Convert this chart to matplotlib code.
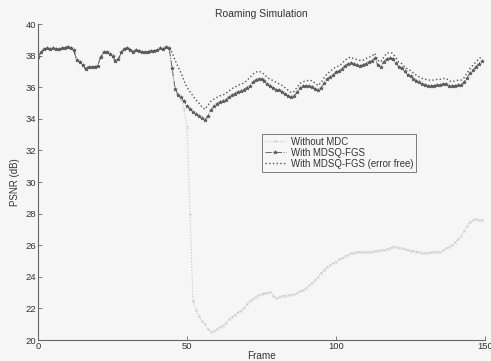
import numpy as np
import matplotlib
matplotlib.use("Agg")
import matplotlib.pyplot as plt

plt.rcParams['font.family'] = ['Liberation Sans', 'DejaVu Sans']

# frames 0..44: all three schemes give the same PSNR
shared = [37.9, 38.2, 38.4, 38.45, 38.4, 38.45, 38.4, 38.4, 38.45, 38.5,
          38.55, 38.45, 38.35, 37.7, 37.6, 37.4, 37.15, 37.3, 37.25, 37.3,
          37.35, 37.9, 38.2, 38.25, 38.1, 37.95, 37.65, 37.8, 38.2, 38.4,
          38.5, 38.35, 38.25, 38.35, 38.3, 38.25, 38.2, 38.25, 38.3, 38.3,
          38.35, 38.45, 38.4, 38.55, 38.5]

# frames 45..149
tail_no_mdc = [37.2, 35.9, 35.5, 35.2, 34.6, 33.5, 28.0, 22.5, 21.9, 21.5,
               21.2, 21.0, 20.7, 20.5, 20.6, 20.7, 20.8, 20.9, 21.1, 21.3,
               21.45, 21.6, 21.75, 21.85, 22.0, 22.25, 22.5, 22.6, 22.75, 22.85,
               22.9, 22.95, 23.0, 23.05, 22.8, 22.65, 22.7, 22.8, 22.8, 22.85,
               22.85, 22.9, 23.0, 23.1, 23.15, 23.3, 23.45, 23.6, 23.8, 24.0,
               24.25, 24.45, 24.6, 24.75, 24.85, 24.95, 25.1, 25.2, 25.3, 25.4,
               25.5, 25.5, 25.55, 25.6, 25.55, 25.6, 25.6, 25.6, 25.65, 25.65,
               25.7, 25.7, 25.75, 25.8, 25.9, 25.9, 25.85, 25.8, 25.75, 25.7,
               25.65, 25.65, 25.6, 25.55, 25.5, 25.5, 25.5, 25.55, 25.55, 25.6,
               25.6, 25.7, 25.8, 25.9, 26.0, 26.2, 26.4, 26.6, 26.9, 27.2,
               27.5, 27.6, 27.65, 27.6, 27.6]

tail_mdsq = [37.2, 35.9, 35.5, 35.35, 35.1, 34.8, 34.65, 34.45, 34.3, 34.15,
             34.05, 33.9, 34.2, 34.55, 34.8, 34.95, 35.05, 35.1, 35.2, 35.35,
             35.5, 35.6, 35.7, 35.75, 35.85, 35.95, 36.1, 36.3, 36.45, 36.55,
             36.5, 36.4, 36.2, 36.05, 35.95, 35.85, 35.8, 35.7, 35.55, 35.45,
             35.35, 35.45, 35.7, 35.95, 36.05, 36.1, 36.1, 36.0, 35.9, 35.8,
             35.95, 36.25, 36.5, 36.65, 36.8, 36.95, 37.0, 37.15, 37.35, 37.5,
             37.55, 37.45, 37.4, 37.35, 37.4, 37.5, 37.6, 37.65, 37.85, 37.4,
             37.3, 37.6, 37.8, 37.85, 37.8, 37.55, 37.3, 37.2, 37.0, 36.8,
             36.7, 36.55, 36.4, 36.3, 36.2, 36.15, 36.1, 36.1, 36.1, 36.15,
             36.15, 36.2, 36.2, 36.1, 36.05, 36.1, 36.15, 36.15, 36.3, 36.6,
             36.9, 37.1, 37.3, 37.5, 37.65]

tail_error_free = [38.2, 37.7, 37.3, 36.9, 36.4, 36.0, 35.7, 35.45, 35.2, 35.0,
                   34.75, 34.6, 34.85, 35.1, 35.25, 35.35, 35.45, 35.5, 35.6, 35.75,
                   35.9, 36.0, 36.1, 36.2, 36.25, 36.4, 36.6, 36.8, 36.95, 37.0,
                   36.95, 36.8, 36.6, 36.5, 36.4, 36.3, 36.2, 36.1, 35.95, 35.8,
                   35.65, 35.75, 36.0, 36.25, 36.35, 36.4, 36.45, 36.4, 36.25, 36.1,
                   36.3, 36.6, 36.85, 37.0, 37.15, 37.3, 37.35, 37.5, 37.7, 37.85,
                   37.9, 37.8, 37.75, 37.7, 37.7, 37.8, 37.9, 37.95, 38.15, 37.7,
                   37.6, 37.9, 38.15, 38.2, 38.15, 37.9, 37.6, 37.5, 37.3, 37.15,
                   37.05, 36.9, 36.75, 36.65, 36.55, 36.5, 36.45, 36.45, 36.45, 36.5,
                   36.5, 36.55, 36.55, 36.4, 36.35, 36.4, 36.45, 36.45, 36.6, 36.9,
                   37.2, 37.4, 37.6, 37.8, 37.95]

no_mdc = shared + tail_no_mdc
mdsq = shared + tail_mdsq
error_free = shared + tail_error_free
frames = np.arange(len(no_mdc))

bg = '#f6f6f6'
txt = '#333333'

fig = plt.figure(figsize=(4.91, 3.61), dpi=100, facecolor=bg)
ax = fig.add_axes([38 / 491, 21 / 361, 447 / 491, 316 / 361], facecolor=bg)

ax.plot(frames, no_mdc, color='#c4c4c4', ls=':', lw=0.8, marker='x',
        ms=1.6, mew=0.4, label='Without MDC')
ax.plot(frames, mdsq, color='#666666', ls='-.', lw=0.7, marker='*',
        ms=2.8, mew=0.4, mec='#4a4a4a', label='With MDSQ-FGS')
ax.plot(frames, error_free, color='#555555', ls=':', lw=1.0,
        label='With MDSQ-FGS (error free)')

ax.set_xlim(0, 150)
ax.set_ylim(20, 40)
ax.set_xticks([0, 50, 100, 150])
ax.set_yticks(np.arange(20, 41, 2))

for s in ['top', 'right']:
    ax.spines[s].set_visible(False)
for s in ['left', 'bottom']:
    ax.spines[s].set_color('#666666')
    ax.spines[s].set_linewidth(0.8)
ax.tick_params(direction='in', length=3, width=0.6, colors='#666666',
               labelcolor=txt, labelsize=6.8, pad=1.5)

ax.set_title('Roaming Simulation', fontsize=7.5, color=txt, pad=5)
ax.set_xlabel('Frame', fontsize=7.2, color=txt, labelpad=0)
ax.set_ylabel('PSNR (dB)', fontsize=7, color=txt, labelpad=4)

leg = ax.legend(loc='upper left', bbox_to_anchor=(0.501, 0.652), fontsize=6.9,
                frameon=True, fancybox=False, handlelength=2.2,
                borderpad=0.3, labelspacing=0.1, handletextpad=0.5,
                borderaxespad=0)
leg.get_frame().set_edgecolor('#444444')
leg.get_frame().set_linewidth(0.6)
leg.get_frame().set_facecolor(bg)
for t in leg.get_texts():
    t.set_color(txt)

fig.savefig('out.png', dpi=100, facecolor=bg)
